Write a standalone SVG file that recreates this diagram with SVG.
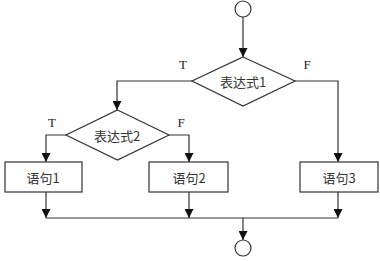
<svg xmlns="http://www.w3.org/2000/svg" width="380" height="261" viewBox="0 0 380 261">
<style>
.s{fill:#fff;stroke:#333;stroke-width:1.2}
.c{fill:none;stroke:#333;stroke-width:1.2}
.t{font-family:"Noto Sans CJK SC","Noto Sans",sans-serif;font-size:13px;fill:#333;text-anchor:middle;dominant-baseline:central}
.l{font-family:"Liberation Serif",serif;font-size:13px;fill:#222;text-anchor:middle;dominant-baseline:central}
</style>
<defs>
<marker id="a" viewBox="0 0 10 10" refX="10" refY="5" markerWidth="9" markerHeight="9" markerUnits="userSpaceOnUse" orient="auto">
<path d="M0,0 L10,5 L0,10 Z" fill="#111"/>
</marker>
</defs>
<rect width="380" height="261" fill="#fff"/>
<g id="connectors">
<path class="c" d="M243,17 V57" marker-end="url(#a)"/>
<path class="c" d="M192,81 H117 V110" marker-end="url(#a)"/>
<path class="c" d="M295,81 H338 V162" marker-end="url(#a)"/>
<path class="c" d="M66,135 H46 V162" marker-end="url(#a)"/>
<path class="c" d="M169,135 H189 V162" marker-end="url(#a)"/>
<path class="c" d="M46,192 V218" marker-end="url(#a)"/>
<path class="c" d="M189,192 V218" marker-end="url(#a)"/>
<path class="c" d="M338,192 V218" marker-end="url(#a)"/>
<path class="c" d="M46,218 H338"/>
<path class="c" d="M243,218 V240" marker-end="url(#a)"/>
</g>
<g id="start"><circle class="s" cx="243" cy="9" r="8"/></g>
<g id="cond1">
<polygon class="s" points="243,57 295,81 243,106 192,81"/>
<text class="t" x="243" y="81">表达式1</text>
</g>
<text class="l" x="183" y="64">T</text>
<text class="l" x="307" y="64">F</text>
<g id="cond2">
<polygon class="s" points="117.5,110 169,135 117.5,160 66,135"/>
<text class="t" x="117" y="135">表达式2</text>
</g>
<text class="l" x="52" y="122">T</text>
<text class="l" x="181" y="122">F</text>
<g id="stmt1">
<rect class="s" x="5" y="162" width="77" height="30"/>
<text class="t" x="43" y="177">语句1</text>
</g>
<g id="stmt2">
<rect class="s" x="149" y="162" width="79" height="30"/>
<text class="t" x="189" y="177">语句2</text>
</g>
<g id="stmt3">
<rect class="s" x="300" y="162" width="78" height="30"/>
<text class="t" x="339" y="177">语句3</text>
</g>
<g id="end"><circle class="s" cx="243" cy="248" r="8"/></g>
</svg>
